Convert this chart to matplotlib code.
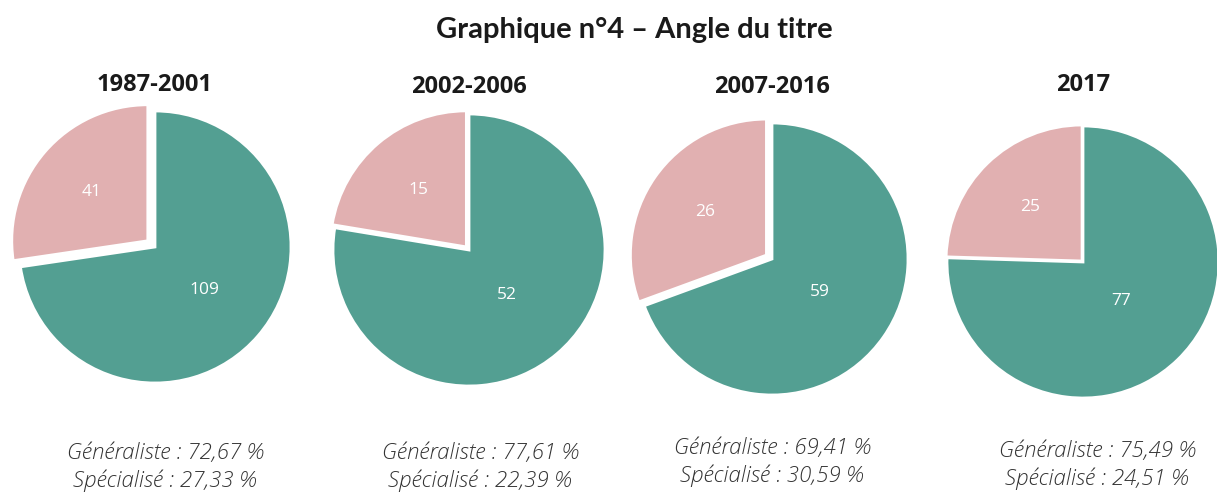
import matplotlib.pyplot as plt
import numpy as np

# data
periods = ["1987-2001", "2002-2006", "2007-2016", "2017"]
generaliste = [109, 52, 59, 77]
specialise = [41, 15, 26, 25]
pct_gen = ["72,67", "77,61", "69,41", "75,49"]
pct_spe = ["27,33", "22,39", "30,59", "24,51"]

GREEN = "#539f92"
PINK = "#e1b0b1"

W, H = 1217, 496
fig = plt.figure(figsize=(W / 100, H / 100), dpi=100)
plt.rcParams['font.family'] = ['Open Sans', 'DejaVu Sans']

# pie centres / radius in pixels (from top-left), explode of the pink slice
centres = [(155, 247), (469, 250), (772, 259), (1083, 262)]
radius = 136
explode_pink = [0.07, 0.03, 0.05, 0.01]
green_dist = [0.48, 0.43, 0.43, 0.4]
title_y = [85, 87, 87, 85]
foot_x = [165, 480, 772, 1097]
foot_y = [453, 453, 448, 451]

fig.text(634 / W, 1 - 30 / H, "Graphique n°4 – Angle du titre", ha="center", va="center",
         fontsize=21, fontweight="bold", color="#1a1a1a", family=["Lato", "DejaVu Sans"])

for i, name in enumerate(periods):
    cx, cy = centres[i]
    half = radius * 1.2
    ax = fig.add_axes([(cx - half) / W, 1 - (cy + half) / H, 2 * half / W, 2 * half / H])
    wedges, _ = ax.pie([generaliste[i], specialise[i]], colors=[GREEN, PINK],
                       startangle=90, counterclock=False,
                       explode=[0, explode_pink[i]],
                       wedgeprops=dict(edgecolor="white", linewidth=2))
    ax.set_xlim(-1.2, 1.2)
    ax.set_ylim(-1.2, 1.2)
    ax.set_aspect("equal")
    ax.axis("off")

    # counts written inside the slices
    for w, val, dist in zip(wedges, [generaliste[i], specialise[i]], [green_dist[i], 0.55]):
        ang = np.deg2rad((w.theta1 + w.theta2) / 2)
        x0, y0 = w.center
        ax.text(x0 + dist * np.cos(ang), y0 + dist * np.sin(ang), str(val),
                ha="center", va="center", color="white", fontsize=12.5)

    fig.text(cx / W, 1 - title_y[i] / H, name, ha="center", va="center",
             fontsize=17, fontweight="bold", color="#1a1a1a")
    fig.text(foot_x[i] / W, 1 - foot_y[i] / H, f"Généraliste : {pct_gen[i]} %",
             ha="center", va="center", fontsize=16, style="italic", fontweight="light",
             color="#333333")
    fig.text(foot_x[i] / W, 1 - (foot_y[i] + 28) / H, f"Spécialisé : {pct_spe[i]} %",
             ha="center", va="center", fontsize=16, style="italic", fontweight="light",
             color="#333333")

fig.savefig("out.png", dpi=100, facecolor="white")
